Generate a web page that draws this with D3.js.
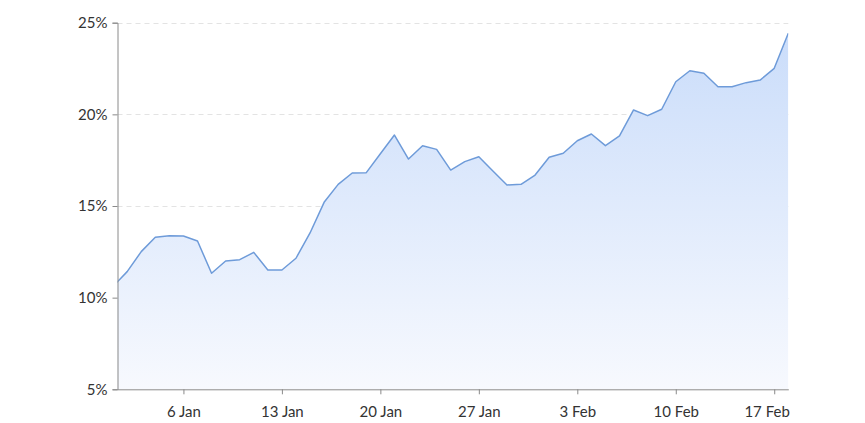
<!DOCTYPE html>
<html>
<head>
<meta charset="utf-8">
<script src="https://cdn.jsdelivr.net/npm/d3@7"></script>
<style>
  html, body { margin: 0; padding: 0; background: #fff; }
  svg { display: block; }
  text { font-family: Lato, "Open Sans", sans-serif; }
</style>
</head>
<body>
<svg id="chart" width="865" height="423"></svg>
<script>
// ---- data ----
const startDate = "2024-01-01";
const values = [
  10.62, 11.42, 12.51, 13.29, 13.38, 13.36, 13.09, 11.33, 12.00, 12.07,
  12.47, 11.51, 11.51, 12.15, 13.53, 15.20, 16.18, 16.80, 16.82, 17.85,
  18.87, 17.56, 18.29, 18.09, 16.96, 17.42, 17.69, 16.91, 16.15, 16.18,
  16.69, 17.66, 17.88, 18.56, 18.93, 18.29, 18.82, 20.24, 19.93, 20.28,
  21.78, 22.38, 22.24, 21.51, 21.51, 21.73, 21.87, 22.51, 24.42
];
const yTicks = [5, 10, 15, 20, 25];
const xTickLabels = ["6 Jan", "13 Jan", "20 Jan", "27 Jan", "3 Feb", "10 Feb", "17 Feb"];
const xTickDates = ["2024-01-06", "2024-01-13", "2024-01-20", "2024-01-27", "2024-02-03", "2024-02-10", "2024-02-17"];
const xDomain = ["2024-01-01T07:30:00", "2024-02-18T00:00:00"];
const yDomain = [5, 25];

// ---- build ----
const parse = s => new Date(s);
const t0 = parse(startDate + "T00:00:00");
const data = values.map((v, i) => ({ date: d3.timeDay.offset(t0, i), value: v }));

const margin = { left: 117.5, right: 865 - 788.3, top: 22.7, bottom: 423 - 389.3 };
const W = 865, H = 423;
const svg = d3.select("#chart");

const x = d3.scaleTime()
  .domain(xDomain.map(parse))
  .range([margin.left, W - margin.right]);
const y = d3.scaleLinear()
  .domain(yDomain)
  .range([H - margin.bottom, margin.top]);

const defs = svg.append("defs");
defs.append("clipPath").attr("id", "clip")
  .append("rect")
  .attr("x", margin.left).attr("y", 0)
  .attr("width", W - margin.right - margin.left)
  .attr("height", H - margin.bottom);

const grad = defs.append("linearGradient")
  .attr("id", "fillGrad")
  .attr("gradientUnits", "userSpaceOnUse")
  .attr("x1", 0).attr("x2", 0)
  .attr("y1", y(25)).attr("y2", y(5));
grad.append("stop").attr("offset", "0%").attr("stop-color", "#c9dcfa");
grad.append("stop").attr("offset", "100%").attr("stop-color", "#f7f9fe");

// gridlines
svg.append("g")
  .selectAll("line")
  .data(yTicks.filter(t => t !== yDomain[0]))
  .join("line")
  .attr("x1", margin.left).attr("x2", W - margin.right)
  .attr("y1", d => Math.round(y(d)) + 0.5).attr("y2", d => Math.round(y(d)) + 0.5)
  .attr("stroke", "#e3e3e3")
  .attr("stroke-width", 1)
  .attr("stroke-dasharray", "5,4");

const plot = svg.append("g").attr("clip-path", "url(#clip)");

const area = d3.area()
  .x(d => x(d.date))
  .y0(y(yDomain[0]))
  .y1(d => y(d.value));
const line = d3.line()
  .x(d => x(d.date))
  .y(d => y(d.value));

plot.append("path")
  .datum(data)
  .attr("d", area)
  .attr("fill", "url(#fillGrad)");

plot.append("path")
  .datum(data)
  .attr("d", line)
  .attr("fill", "none")
  .attr("stroke", "#6e9bd9")
  .attr("stroke-width", 1.5)
  .attr("stroke-linejoin", "round");

// y axis
const yAxis = d3.axisLeft(y)
  .tickValues(yTicks)
  .tickFormat(d => d + "%")
  .tickSize(5)
  .tickPadding(5);
const gy = svg.append("g")
  .attr("transform", `translate(${margin.left},0)`)
  .call(yAxis);
gy.select(".domain").attr("stroke", "#8a8a8a");
gy.selectAll(".tick line").attr("stroke", "#8a8a8a");
gy.selectAll("text")
  .attr("font-size", 15)
  .attr("fill", "#333")
  .style("font-family", "Lato, sans-serif");

// x axis
const tickMap = new Map(xTickDates.map((d, i) => [+parse(d + "T00:00:00"), xTickLabels[i]]));
const xAxis = d3.axisBottom(x)
  .tickValues(xTickDates.map(d => parse(d + "T00:00:00")))
  .tickFormat(d => tickMap.get(+d))
  .tickSize(5)
  .tickSizeOuter(0)
  .tickPadding(12);
const gx = svg.append("g")
  .attr("transform", `translate(0,${y(yDomain[0])})`)
  .call(xAxis);
gx.select(".domain").attr("stroke", "#8a8a8a");
gx.selectAll(".tick line").attr("stroke", "#8a8a8a");
gx.selectAll("text")
  .attr("font-size", 15)
  .attr("fill", "#333")
  .style("font-family", "Lato, sans-serif");

// keep the last label inside the plot's right edge
const xEnd = x.range()[1];
gx.selectAll(".tick text").each(function(d) {
  const t = d3.select(this);
  const w = this.getComputedTextLength();
  const pos = x(d);
  if (pos + w / 2 > xEnd + 1) {
    t.attr("text-anchor", "end").attr("x", xEnd - pos + 1);
  }
});
</script>
</body>
</html>
